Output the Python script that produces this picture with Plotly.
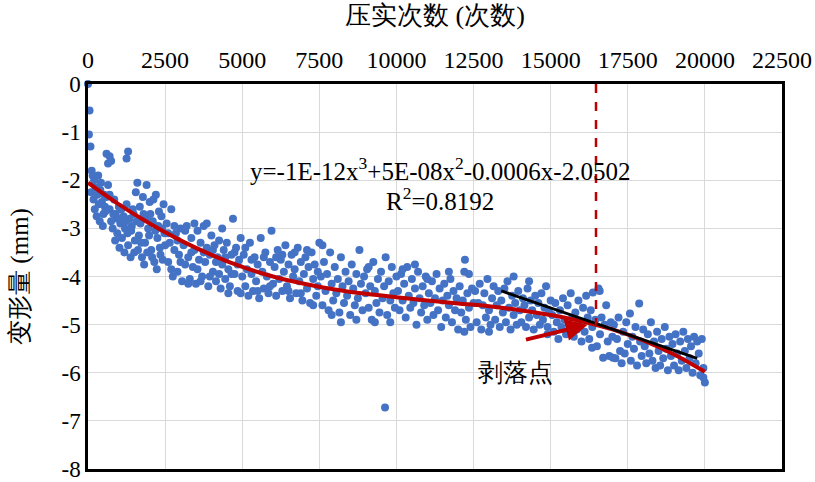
import plotly.graph_objects as go

# ---------------- data ----------------
x_tick_vals = [0, 2500, 5000, 7500, 10000, 12500, 15000, 17500, 20000, 22500]
x_tick_text = ["0", "2500", "5000", "7500", "10000", "12500", "15000", "17500", "20000", "22500"]
y_tick_vals = [0, -1, -2, -3, -4, -5, -6, -7, -8]
y_tick_text = ["0", "-1", "-2", "-3", "-4", "-5", "-6", "-7", "-8"]

# measured points (x: compaction count, y: deformation mm)
pts_a = [(0, 0), (50, -0.55), (30, -1.05), (80, -1.3), (120, -1.8), (150, -1.9), (200, -2.0), (250, -2.15),
         (100, -2.25), (300, -2.3), (180, -2.4), (350, -2.5), (220, -2.6), (400, -2.2), (450, -2.45),
         (500, -2.7), (280, -2.75), (550, -2.55), (600, -2.35), (380, -2.85), (420, -2.05), (330, -1.9),
         (480, -2.95), (520, -2.3), (560, -2.65),
         (600, -1.45), (700, -1.5), (750, -1.6), (650, -1.65), (1300, -1.4), (1250, -1.55)]
pts_b = [(650, -2.1), (700, -2.6), (750, -2.85), (800, -3.0), (850, -2.4), (900, -2.7), (950, -3.1),
         (1000, -2.55), (1050, -2.9), (1100, -3.2), (1150, -2.75), (1200, -3.0), (1250, -2.5), (1300, -3.35),
         (1350, -2.8), (1400, -3.05), (1450, -2.6), (1500, -3.5), (1550, -2.25), (1600, -2.05), (1650, -3.15),
         (1700, -2.9), (1750, -3.6), (1800, -2.7), (1850, -3.3), (1900, -2.1), (1950, -3.0), (2000, -2.45),
         (2050, -3.45), (2100, -2.85), (2150, -3.7), (2200, -2.3), (2250, -3.2), (2300, -2.65), (2350, -3.55),
         (2400, -3.0), (2450, -2.5), (2500, -3.35),
         (700, -2.3), (820, -2.7), (880, -3.25), (960, -2.8), (1020, -3.4), (1080, -2.6), (1180, -3.5),
         (1220, -2.85), (1280, -3.1), (1380, -3.6), (1420, -2.95), (1480, -2.7), (1520, -3.25), (1580, -2.85),
         (1620, -3.45), (1680, -2.55), (1720, -3.3), (1780, -2.35), (1820, -3.75), (1880, -2.8), (1920, -3.5),
         (1980, -3.15), (2020, -2.7), (2080, -3.6), (2120, -2.4), (2180, -3.05), (2230, -3.85), (2280, -2.95),
         (2330, -3.4), (2380, -2.75), (2420, -3.65), (2480, -3.1)]
pts_c = [(2550, -2.9), (2600, -3.7), (2650, -3.3), (2700, -2.6), (2750, -4.0), (2800, -3.45), (2850, -3.1),
         (2900, -3.9), (2950, -3.55), (3000, -3.0), (3050, -4.1), (3100, -3.35), (3150, -3.75), (3200, -2.95),
         (3250, -3.6), (3300, -4.05), (3350, -3.2), (3400, -3.8), (3450, -3.45), (3500, -4.15), (3550, -3.05),
         (3600, -3.65), (3650, -3.3), (3700, -4.0), (3750, -2.95), (3800, -3.7), (3850, -3.4), (3900, -4.2),
         (3950, -3.55), (4000, -3.15), (4050, -3.9), (4100, -3.35), (4150, -4.1), (4200, -3.6), (4250, -3.25),
         (4300, -4.25), (4350, -3.75), (4400, -3.45), (4450, -4.05), (4500, -3.3), (4550, -3.85), (4600, -4.2),
         (4650, -3.55), (4700, -2.8), (4750, -3.95), (4800, -3.4), (4850, -4.3), (4900, -3.65), (4950, -3.2),
         (5000, -4.0),
         (2600, -3.1), (2700, -3.85), (2800, -2.95), (2900, -3.25), (3000, -3.7), (3150, -3.05), (3250, -4.15),
         (3350, -3.5), (3450, -2.9), (3550, -3.85), (3650, -4.1), (3750, -3.5), (3850, -2.9), (3950, -4.0),
         (4050, -3.45), (4150, -3.7), (4250, -3.95), (4350, -3.0), (4450, -3.6), (4550, -4.35), (4650, -3.95),
         (4750, -3.5), (4850, -3.75), (4950, -4.35)]
pts_d = [(5050, -3.55), (5100, -4.2), (5150, -3.85), (5200, -4.4), (5250, -3.3), (5300, -3.95), (5350, -4.3),
         (5400, -3.6), (5450, -4.1), (5500, -3.75), (5550, -4.45), (5600, -3.2), (5650, -3.9), (5700, -4.25),
         (5750, -3.5), (5800, -4.0), (5850, -4.35), (5900, -3.7), (5950, -3.05), (6000, -4.15), (6050, -3.8),
         (6100, -4.4), (6150, -3.45), (6200, -4.05), (6250, -3.65), (6300, -4.3), (6350, -3.9), (6400, -3.35),
         (6450, -4.2), (6500, -3.75), (6550, -4.45), (6600, -3.55), (6650, -4.0), (6700, -3.85), (6750, -4.35),
         (6800, -3.4), (6850, -4.1), (6900, -3.7), (6950, -4.5), (7000, -3.95), (7050, -3.6), (7100, -4.25),
         (7150, -3.8), (7200, -4.55), (7250, -3.5), (7300, -4.05), (7350, -3.75), (7400, -4.4), (7450, -3.9),
         (7500, -3.3),
         (5100, -3.4), (5300, -3.65), (5500, -4.3), (5700, -3.6), (5900, -4.2), (6100, -3.6), (6300, -3.55),
         (6500, -4.3), (6700, -3.5), (6900, -4.35), (7100, -3.45), (7300, -4.6), (7450, -4.2)]
pts_e = [(7550, -4.0), (7600, -4.6), (7650, -3.7), (7700, -4.3), (7750, -3.95), (7800, -4.7), (7850, -3.5),
         (7900, -4.15), (7950, -4.5), (8000, -3.8), (8050, -4.35), (8100, -4.05), (8150, -4.75), (8200, -3.6),
         (8250, -4.2), (8300, -4.55), (8350, -3.9), (8400, -4.4), (8450, -4.1), (8500, -4.8), (8550, -3.75),
         (8600, -4.25), (8650, -4.6), (8700, -3.95), (8750, -4.45), (8800, -3.45), (8850, -4.15), (8900, -4.7),
         (8950, -4.0), (9000, -4.35), (9050, -3.85), (9100, -4.65), (9150, -4.2), (9200, -4.9), (9250, -3.7),
         (9300, -4.3), (9350, -4.55), (9400, -4.05), (9450, -4.75), (9500, -3.9), (9550, -4.45), (9600, -4.2),
         (9650, -3.6), (9700, -4.8), (9750, -4.1), (9800, -4.5), (9850, -3.8), (9900, -4.35), (9950, -4.65),
         (10000, -4.0),
         (7600, -3.35), (7900, -4.8), (8200, -4.95), (8700, -4.9), (9100, -3.8), (9300, -4.95), (9630, -6.72),
         (9800, -4.95)]
pts_f = [(10050, -4.3), (10100, -4.7), (10150, -3.95), (10200, -4.5), (10250, -4.15), (10300, -4.85),
         (10350, -3.8), (10400, -4.4), (10450, -4.65), (10500, -4.05), (10550, -4.55), (10600, -4.25),
         (10650, -5.0), (10700, -3.9), (10750, -4.45), (10800, -4.75), (10850, -4.2), (10900, -4.6),
         (10950, -4.0), (11000, -4.9), (11050, -4.35), (11100, -4.55), (11150, -4.1), (11200, -4.8),
         (11250, -4.45), (11300, -3.95), (11350, -4.7), (11400, -4.25), (11450, -5.05), (11500, -4.5),
         (11550, -4.15), (11600, -4.85), (11650, -4.4), (11700, -4.6), (11750, -4.05), (11800, -4.95),
         (11850, -4.3), (11900, -4.7), (11950, -4.45), (12000, -5.1), (12050, -4.2), (12100, -4.75),
         (12150, -4.5), (12200, -3.9), (12250, -4.9), (12300, -4.35), (12350, -4.65), (12400, -5.05),
         (12450, -4.25), (12500, -4.55),
         (10200, -3.85), (10600, -3.75), (11000, -4.05), (11700, -3.9), (12200, -5.15), (12350, -3.95),
         (12220, -3.65)]
pts_g = [(12550, -4.3), (12600, -4.95), (12650, -4.55), (12700, -4.15), (12750, -5.1), (12800, -4.6),
         (12850, -4.35), (12900, -4.85), (12950, -4.05), (13000, -4.7), (13050, -5.0), (13100, -4.45),
         (13150, -4.2), (13200, -4.9), (13250, -4.6), (13300, -4.3), (13350, -5.05), (13400, -4.5),
         (13450, -4.75), (13500, -4.25), (13550, -4.95), (13600, -4.1), (13650, -4.65), (13700, -5.1),
         (13750, -4.4), (13800, -4.8), (13850, -4.55), (13900, -5.0), (13950, -4.3), (14000, -4.7),
         (14050, -4.95), (14100, -4.45), (14150, -4.6), (14200, -5.05), (14250, -4.25), (14300, -4.85),
         (14350, -4.5), (14400, -4.7), (14450, -5.1), (14500, -4.4), (14550, -4.8), (14600, -4.55),
         (14650, -5.0), (14700, -4.35), (14750, -4.9), (14800, -4.65), (14850, -4.2), (14900, -5.05),
         (14950, -4.75), (15000, -4.5),
         (13800, -4.0), (14300, -4.1), (14900, -5.2), (13000, -5.15)]
pts_h = [(15050, -4.8), (15100, -5.15), (15150, -4.55), (15200, -4.95), (15250, -5.3), (15300, -4.7),
         (15350, -5.05), (15400, -4.45), (15450, -4.9), (15500, -5.2), (15550, -4.6), (15600, -5.0),
         (15650, -4.35), (15700, -4.85), (15750, -5.25), (15800, -4.75), (15850, -5.1), (15900, -4.5),
         (15950, -4.95), (16000, -5.35), (16050, -4.65), (16100, -5.15), (16150, -4.4), (16200, -4.85),
         (16250, -5.3), (16300, -4.7), (16370, -4.33), (16590, -4.3), (16350, -5.05), (16340, -5.48),
         (16450, -4.9), (16500, -5.45), (16550, -4.25), (16600, -5.2), (16650, -4.85), (16700, -5.69),
         (16750, -5.0), (16800, -4.6), (16850, -5.35), (16900, -5.65), (16950, -4.95), (17020, -5.69),
         (17000, -5.25)]
pts_i = [(17050, -5.0), (17100, -5.7), (17150, -5.3), (17200, -4.85), (17250, -5.55), (17300, -5.8),
         (17350, -5.15), (17400, -5.6), (17450, -4.95), (17500, -5.4), (17570, -4.77), (17600, -5.75),
         (17650, -5.25), (17700, -5.5), (17750, -5.05), (17800, -5.85), (17870, -4.56), (17900, -5.35),
         (17950, -5.65), (18000, -5.1), (18050, -5.45), (18100, -5.8), (18150, -5.2), (18200, -5.6),
         (18250, -4.95), (18300, -5.75), (18350, -5.35), (18400, -5.9), (18450, -5.15), (18500, -5.55),
         (18550, -5.85), (18600, -5.3), (18650, -5.7), (18700, -5.05), (18750, -5.5), (18800, -5.95),
         (18850, -5.25), (18900, -5.65), (18950, -5.4), (19000, -5.85), (19050, -5.2), (19100, -5.6),
         (19150, -5.95), (19200, -5.35), (19250, -5.75), (19300, -5.15), (19350, -5.55), (19400, -5.9),
         (19450, -5.3), (19500, -5.7), (19550, -5.45), (19600, -6.0), (19650, -5.25), (19700, -5.8),
         (19750, -5.35), (19800, -5.6), (19850, -6.05), (19900, -5.3), (19950, -5.9), (20000, -6.2),
         (19950, -6.1)]

all_pts = pts_a + pts_b + pts_c + pts_d + pts_e + pts_f + pts_g + pts_h + pts_i
scatter_x = [p[0] for p in all_pts]
scatter_y = [p[1] for p in all_pts]

# polynomial trend line
trend_x = [0, 1000, 2000, 2500, 3000, 4000, 5000, 6000, 7000, 8000, 9000, 10000, 11000,
           12000, 13000, 14000, 15000, 16000, 17000, 18000, 19000, 20000]
trend_y = [-2.05, -2.5, -2.9, -3.08, -3.25, -3.55, -3.8, -4.0, -4.15, -4.27, -4.36, -4.43, -4.5,
           -4.56, -4.62, -4.7, -4.8, -4.93, -5.1, -5.33, -5.62, -5.98]

# linear fit after spalling
lin_x = [13400, 19750]
lin_y = [-4.3, -5.7]

# spalling point marker line
spall_x = [16470, 16470]
spall_y = [0, -5.0]

eq_line1 = "y=-1E-12x<sup>3</sup>+5E-08x<sup>2</sup>-0.0006x-2.0502"
eq_line2 = "R<sup>2</sup>=0.8192"
spall_label = "剥落点"
x_title = "压实次数 (次数)"
y_title = "变形量 (mm)"

# ---------------- figure ----------------
SERIF = "Liberation Serif"
RED = "#C00000"

fig = go.Figure()
fig.add_trace(go.Scatter(x=scatter_x, y=scatter_y, mode="markers",
                         marker=dict(color="#4472C4", size=8, line=dict(width=0)),
                         cliponaxis=False, showlegend=False, hoverinfo="skip"))
fig.add_trace(go.Scatter(x=trend_x, y=trend_y, mode="lines", line=dict(color=RED, width=4, shape="spline"),
                         showlegend=False, hoverinfo="skip"))
fig.add_trace(go.Scatter(x=lin_x, y=lin_y, mode="lines", line=dict(color="black", width=3),
                         showlegend=False, hoverinfo="skip"))
fig.add_trace(go.Scatter(x=spall_x, y=spall_y, mode="lines", line=dict(color=RED, width=2.5, dash="dash"),
                         showlegend=False, hoverinfo="skip"))

fig.add_annotation(x=11400, y=-1.76, xref="x", yref="y", text=eq_line1, showarrow=False,
                   font=dict(family=SERIF, size=25, color="black"))
fig.add_annotation(x=11400, y=-2.38, xref="x", yref="y", text=eq_line2, showarrow=False,
                   font=dict(family=SERIF, size=25, color="black"))
fig.add_annotation(x=16200, y=-5.0, ax=14150, ay=-5.32, xref="x", yref="y", axref="x", ayref="y",
                   text="", showarrow=True, arrowhead=2, arrowsize=1.1, arrowwidth=4, arrowcolor=RED)
fig.add_annotation(x=13875, y=-6.0, xref="x", yref="y", text=spall_label, showarrow=False,
                   font=dict(family=SERIF, size=25, color="black"))

fig.update_layout(
    width=815, height=482,
    margin=dict(l=88, r=33, t=84, b=13, autoexpand=False),
    paper_bgcolor="white", plot_bgcolor="white",
    font=dict(family=SERIF, color="black", size=23),
)
fig.update_xaxes(side="top", range=[0, 22500], tickvals=x_tick_vals, ticktext=x_tick_text,
                 showgrid=True, gridcolor="#D9D9D9", gridwidth=1,
                 showline=True, linecolor="black", linewidth=2.5, mirror=True,
                 ticks="", tickfont=dict(family=SERIF, size=24), zeroline=False,
                 ticklabeloverflow="allow", automargin=False, ticklabelstandoff=4,
                 title=dict(text=x_title, font=dict(family=SERIF, size=26), standoff=15))
fig.update_yaxes(range=[-8, 0], tickvals=y_tick_vals, ticktext=y_tick_text,
                 showgrid=True, gridcolor="#D9D9D9", gridwidth=1,
                 showline=True, linecolor="black", linewidth=2.5, mirror=True,
                 ticks="", tickfont=dict(family=SERIF, size=23), zeroline=False,
                 ticklabeloverflow="allow", automargin=False,
                 title=dict(text=y_title, font=dict(family=SERIF, size=25), standoff=26))

fig.write_html("out.html", config={"displayModeBar": False},
               post_script="document.body.style.margin='0';document.body.style.overflow='hidden';")
